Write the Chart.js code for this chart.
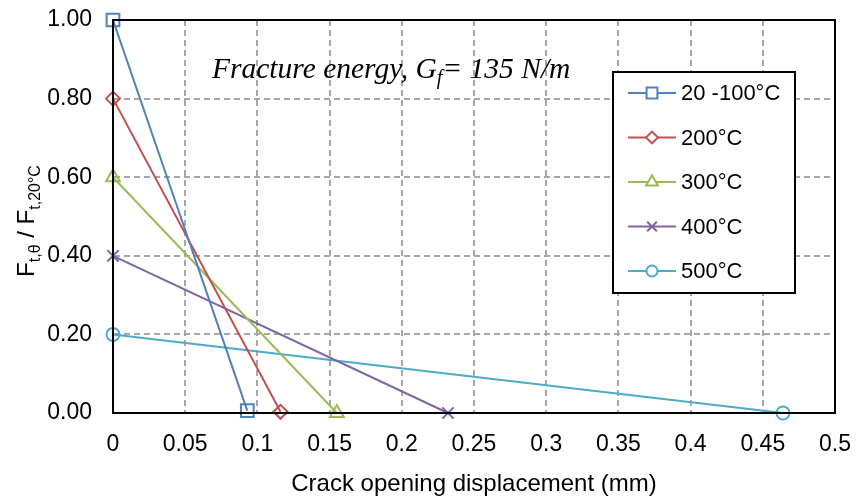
<!DOCTYPE html>
<html>
<head>
<meta charset="utf-8">
<script src="https://cdn.jsdelivr.net/npm/chart.js@4"></script>
<style>
  html, body { margin: 0; padding: 0; background: #fff; }
  #wrap { width: 857px; height: 497px; }
</style>
</head>
<body>
<div id="wrap"><canvas id="graf"></canvas></div>
<script>
// dados
var series = ['20 -100°C', '200°C', '300°C', '400°C', '500°C']
var startY = [1.00, 0.80, 0.60, 0.40, 0.20]
var endX = [0.093, 0.116, 0.155, 0.232, 0.464]
var endY = [0.006, 0.003, 0.0, 0.0, 0.0]
var cores = ['#4F81BD', '#C0504D', '#9BBB59', '#8064A2', '#4BACC6']
var marcadores = ['rect', 'rectRot', 'triangle', 'crossRot', 'circle']
var raios = [9, 7, 8, 8, 6.5]
var xTicks = [0, 0.05, 0.1, 0.15, 0.2, 0.25, 0.3, 0.35, 0.4, 0.45, 0.5]
var yTicks = [0, 0.2, 0.4, 0.6, 0.8, 1.0]

var fonte = "'Liberation Sans', Arial, sans-serif"

// monta os datasets
var datasets = []
series.forEach(function(nome, i){
    datasets.push({
        label: nome,
        data: [{x: 0, y: startY[i]}, {x: endX[i], y: endY[i]}],
        borderColor: cores[i],
        backgroundColor: 'rgba(255,255,255,0)',
        borderWidth: 2,
        pointStyle: marcadores[i],
        pointRadius: raios[i],
        pointBorderWidth: 2,
        pointBorderColor: cores[i],
        clip: false
    })
})

// texto com subscrito
function textoSub(ctx, partes, x, y){
    partes.forEach(function(p){
        ctx.font = p.font
        ctx.fillText(p.t, x, y + (p.dy || 0))
        x += ctx.measureText(p.t).width
    })
    return x
}
function larguraSub(ctx, partes){
    var w = 0
    partes.forEach(function(p){ ctx.font = p.font; w += ctx.measureText(p.t).width })
    return w
}

var extras = {
    id: 'extras',
    afterDraw: function(chart){
        var ctx = chart.ctx
        var a = chart.chartArea
        ctx.save()

        // moldura
        ctx.strokeStyle = '#000'
        ctx.lineWidth = 2
        ctx.strokeRect(a.left, a.top, a.right - a.left, a.bottom - a.top)

        // titulo interno
        ctx.fillStyle = '#000'
        ctx.textBaseline = 'alphabetic'
        ctx.textAlign = 'left'
        var it = "italic 29.5px 'Liberation Serif', 'Times New Roman', serif"
        var its = "italic 20px 'Liberation Serif', 'Times New Roman', serif"
        textoSub(ctx, [
            {t: 'Fracture energy, G', font: it},
            {t: 'f', font: its, dy: 6},
            {t: '= 135 N/m', font: it}
        ], 212, 78)

        // titulo do eixo y
        var g = "24px " + fonte
        var p = "16px " + fonte
        var partes = [
            {t: 'F', font: g},
            {t: 't,θ', font: p, dy: 6},
            {t: ' / F', font: g},
            {t: 't,20°C', font: p, dy: 6}
        ]
        ctx.translate(34, 221)
        ctx.rotate(-Math.PI / 2)
        textoSub(ctx, partes, -larguraSub(ctx, partes) / 2, 0)
        ctx.setTransform(1, 0, 0, 1, 0, 0)

        // legenda
        var lx = 613, ly = 72, lw = 182, lh = 221
        ctx.fillStyle = '#fff'
        ctx.fillRect(lx, ly, lw, lh)
        ctx.strokeStyle = '#000'
        ctx.lineWidth = 2
        ctx.strokeRect(lx, ly, lw, lh)
        chart.data.datasets.forEach(function(ds, i){
            var yy = 93 + i * 44.5
            ctx.strokeStyle = ds.borderColor
            ctx.lineWidth = 2
            ctx.beginPath()
            ctx.moveTo(628, yy)
            ctx.lineTo(676, yy)
            ctx.stroke()
            ctx.fillStyle = '#fff'
            Chart.helpers.drawPoint(ctx, {pointStyle: ds.pointStyle, radius: raios[i] * 0.85, borderWidth: 2, rotation: 0}, 652, yy)
            ctx.fillStyle = '#000'
            ctx.font = "22px " + fonte
            ctx.textBaseline = 'middle'
            ctx.fillText(ds.label, 681, yy + 1)
        })
        ctx.restore()
    }
}

new Chart(document.getElementById('graf').getContext('2d'), {
    type: 'line',
    data: { datasets: datasets },
    options: {
        responsive: true,
        maintainAspectRatio: false,
        animation: false,
        layout: { padding: { left: 0, top: 20, right: 22, bottom: 0 } },
        plugins: {
            legend: { display: false },
            tooltip: { enabled: false }
        },
        scales: {
            x: {
                type: 'linear',
                min: 0,
                max: 0.5,
                afterBuildTicks: function(s){ s.ticks = xTicks.map(function(v){ return {value: v} }) },
                afterFit: function(s){
                    s.height = 84
                    s.paddingLeft = 0
                    s.paddingRight = 0
                },
                grid: {
                    drawTicks: false,
                    color: '#A6A6A6',
                    lineWidth: 2
                },
                border: { display: true, color: '#000', width: 2, dash: [6, 4] },
                ticks: {
                    padding: 18,
                    color: '#000',
                    font: { size: 23, family: fonte },
                    callback: function(v){ return String(parseFloat(v.toFixed(2))) }
                },
                title: {
                    display: true,
                    text: 'Crack opening displacement (mm)',
                    color: '#000',
                    font: { size: 24, family: fonte },
                    padding: { top: 11, bottom: -2 }
                }
            },
            y: {
                min: 0,
                max: 1,
                afterBuildTicks: function(s){ s.ticks = yTicks.map(function(v){ return {value: v} }) },
                afterFit: function(s){
                    s.width = 113
                    s.paddingTop = 0
                    s.paddingBottom = 0
                },
                grid: {
                    drawTicks: false,
                    color: '#A6A6A6',
                    lineWidth: 2
                },
                border: { display: true, color: '#000', width: 2, dash: [6, 4] },
                ticks: {
                    padding: 21,
                    color: '#000',
                    font: { size: 23, family: fonte },
                    callback: function(v){ return v.toFixed(2) }
                }
            }
        }
    },
    plugins: [extras]
})
</script>
</body>
</html>
